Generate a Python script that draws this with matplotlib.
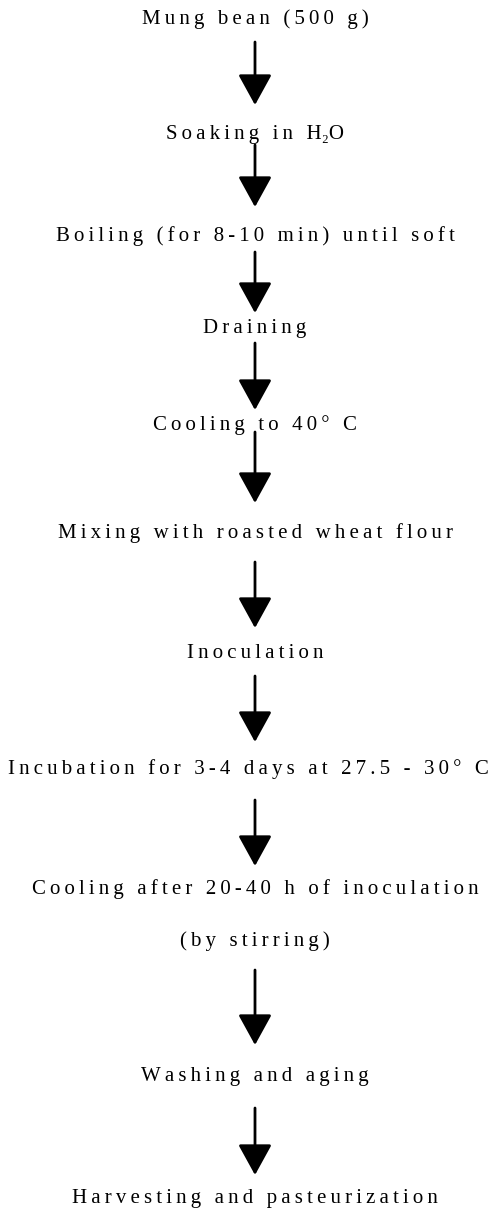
import matplotlib.pyplot as plt

plt.rcParams['font.family'] = ['Liberation Serif', 'DejaVu Serif']

# flow steps (top to bottom)
steps = ['Mung bean (500 g)',
         'Soaking in H₂O',
         'Boiling (for 8-10 min) until soft',
         'Draining',
         'Cooling to 40° C',
         'Mixing with roasted wheat flour',
         'Inoculation',
         'Incubation for 3-4 days at 27.5 - 30° C',
         'Cooling after 20-40 h of inoculation\n(by stirring)',
         'Washing and aging',
         'Harvesting and pasteurization']

# layout in pixels (y from top)
line_y = [[19], [135], [236], [328], [425], [533], [653], [769], [889, 941], [1076], [1199]]
arrow_y = [(42, 105), (145, 207), (252, 313), (343, 410), (432, 503),
           (562, 628), (676, 742), (800, 866), (970, 1045), (1108, 1175)]
cx = 255


def spaced(s):
    # the original print uses wide letter spacing
    out = ''
    for i, c in enumerate(s):
        if i > 0 and c not in '₂O' or (c == 'O' and s[i - 1] != '₂'):
            out += '\u2009'
        out += c
    return out


fig = plt.figure(figsize=(4.89, 12.14), dpi=100)
ax = fig.add_axes([0, 0, 1, 1])
ax.set_xlim(0, 489)
ax.set_ylim(1214, 0)
ax.axis('off')

for s, ys in zip(steps, line_y):
    for line, y in zip(s.split('\n'), ys):
        xx = 248 if 'Incubation' in line else cx
        ax.text(xx, y, spaced(line), ha='center', va='center', fontsize=15, color='black')

for y0, y1 in arrow_y:
    ax.annotate('', xy=(cx, y1), xytext=(cx, y0),
                arrowprops=dict(arrowstyle='-|>,head_length=1.0,head_width=0.55',
                                mutation_scale=19, lw=2, color='black',
                                shrinkA=0, shrinkB=0))

fig.savefig('out.png', dpi=100, facecolor='white')
